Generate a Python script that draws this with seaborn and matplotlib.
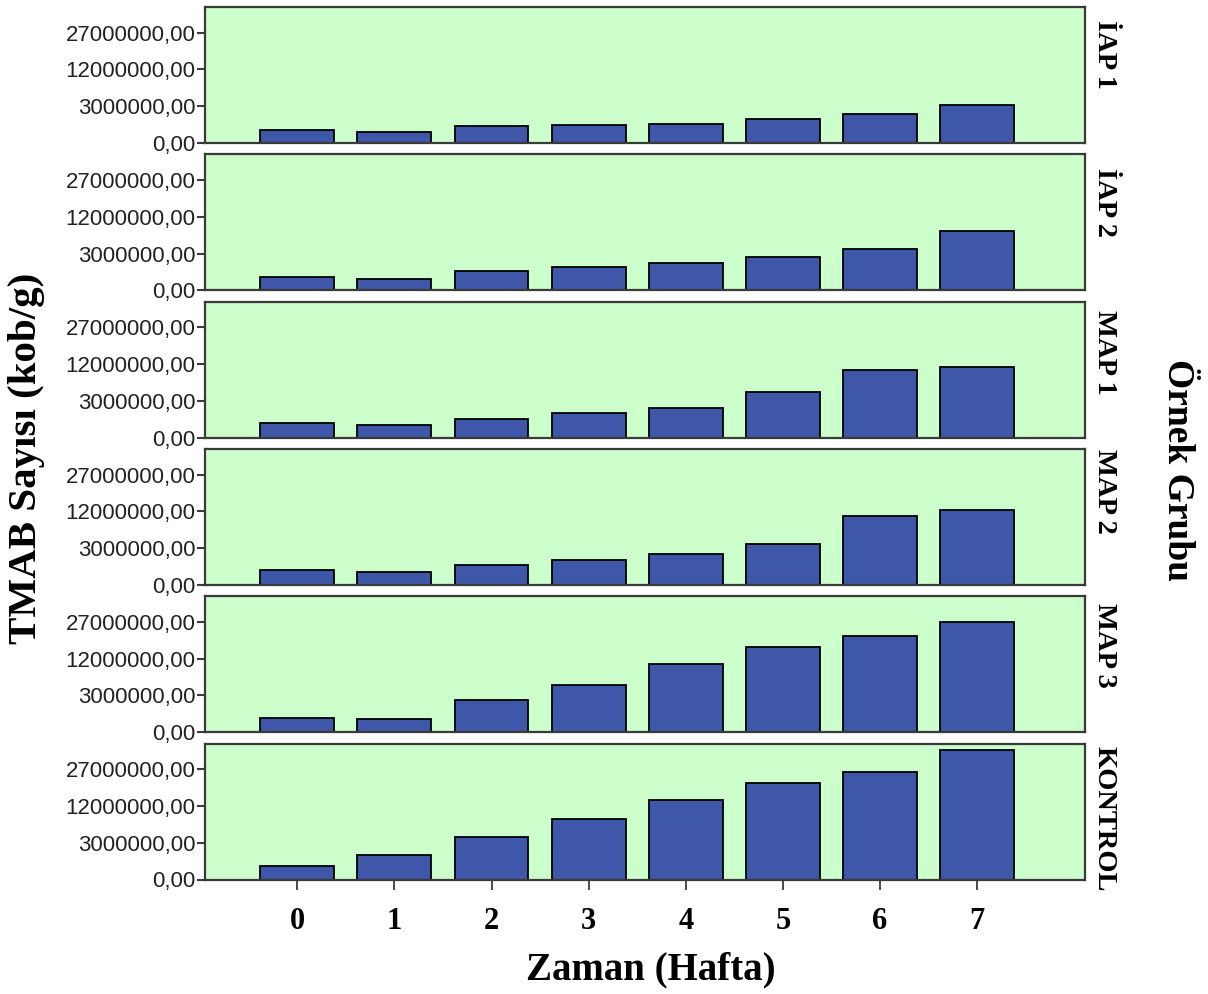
import numpy as np
import pandas as pd
import matplotlib
matplotlib.use("Agg")
import matplotlib.pyplot as plt
import seaborn as sns

# ---------------- data ----------------
weeks = [0, 1, 2, 3, 4, 5, 6, 7]
groups = ["İAP 1", "İAP 2", "MAP 1", "MAP 2", "MAP 3", "KONTROL"]
iap1 = [400000, 280000, 630000, 680000, 820000, 1270000, 1910000, 3170000]
iap2 = [400000, 290000, 790000, 1170000, 1620000, 2420000, 3820000, 7820000]
map1 = [445000, 346000, 764000, 1380000, 1960000, 4530000, 10000000, 11200000]
map2 = [467000, 384000, 909000, 1420000, 2050000, 3700000, 10400000, 12600000]
map3 = [467000, 384000, 2370000, 4880000, 10400000, 16200000, 20500000, 26700000]
kontrol = [404000, 1310000, 4010000, 8000000, 13900000, 20500000, 25400000, 37000000]
series = [iap1, iap2, map1, map2, map3, kontrol]

ytick_values = [0, 3000000, 12000000, 27000000]
ytick_labels = ["0,00", "3000000,00", "12000000,00", "27000000,00"]
xlabel = "Zaman (Hafta)"
ylabel = "TMAB Sayısı (kob/g)"
right_label = "Örnek Grubu"

# ---------------- style / layout ----------------
sns.set_style("white")
SERIF = ["Liberation Serif", "DejaVu Serif"]
SANS = ["Liberation Sans", "DejaVu Sans"]
BAR = "#3F57A8"
BG = "#CCFFCC"
FRAME = "#3a3a3a"

W, H = 1208, 994
fig = plt.figure(figsize=(W / 100, H / 100), dpi=100)
fig.patch.set_facecolor("white")

left, right = 205, 1085
top0, step, ph = 7, 147.3, 136
label_tops = [20, 168, 310, 449, 603, 746]

def fwd(v):
    return np.sqrt(np.clip(v, 0, None))

def inv(v):
    return np.square(v)

for i, (g, vals) in enumerate(zip(groups, series)):
    top = top0 + i * step
    ax = fig.add_axes([left / W, 1 - (top + ph) / H, (right - left) / W, ph / H])
    df = pd.DataFrame({"week": weeks, "val": vals})
    sns.barplot(data=df, x="week", y="val", ax=ax, color=BAR, saturation=1,
                edgecolor="black", linewidth=1.3, width=0.76, errorbar=None)
    ax.set_yscale("function", functions=(fwd, inv))
    ax.set_ylim(0, 41000000)
    ax.set_xlim(-0.95, 8.11)
    ax.set_facecolor(BG)
    for s in ax.spines.values():
        s.set_visible(True)
        s.set_color(FRAME)
        s.set_linewidth(1.6)
    ax.yaxis.set_minor_locator(matplotlib.ticker.NullLocator())
    ax.set_yticks(ytick_values)
    ax.set_yticklabels(ytick_labels, fontfamily=SANS, fontsize=16, color="#222222")
    ax.tick_params(axis="y", which="major", left=True, length=6, width=1.5,
                   color=FRAME, pad=1)
    ax.set_xlabel("")
    ax.set_ylabel("")
    if i < len(groups) - 1:
        ax.tick_params(axis="x", bottom=False, labelbottom=False)
    else:
        ax.tick_params(axis="x", bottom=True, length=7, width=1.3, color=FRAME, pad=13)
        for t in ax.get_xticklabels():
            t.set_fontfamily(SERIF)
            t.set_fontweight("bold")
            t.set_fontsize(22)
            t.set_color("black")
    fig.text(1092 / W, 1 - label_tops[i] / H, g, rotation=-90, ha="left", va="top",
             fontfamily=SERIF, fontweight="bold", fontsize=20.5, color="black")

fig.text(651 / W, 1 - 970 / H, xlabel, ha="center", va="center",
         fontfamily=SERIF, fontweight="bold", fontsize=28, color="black")
fig.text(27 / W, 1 - 458 / H, ylabel, ha="center", va="center", rotation=90,
         fontfamily=SERIF, fontweight="bold", fontsize=29.5, color="black")
fig.text(1178 / W, 1 - 470 / H, right_label, ha="center", va="center", rotation=-90,
         fontfamily=SERIF, fontweight="bold", fontsize=27, color="black")

fig.savefig("out.png", dpi=100, facecolor="white")
